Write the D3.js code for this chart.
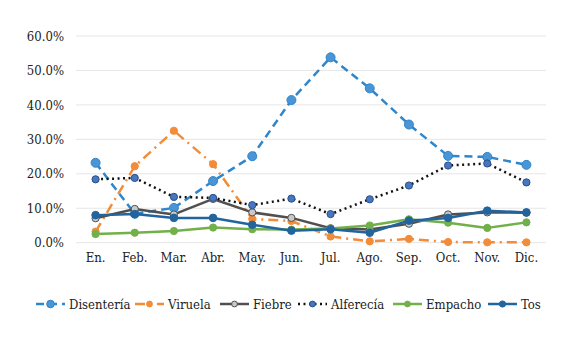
<!DOCTYPE html>
<html><head><meta charset="utf-8">
<script src="https://cdn.jsdelivr.net/npm/d3@7"></script>
<style>body{margin:0;background:#fff}svg{display:block}
svg text{font-family:"DejaVu Serif Condensed","DejaVu Serif",serif;font-stretch:condensed}</style>
</head><body><svg id="c" width="566" height="338"></svg>
<script>
const months = ["En.","Feb.","Mar.","Abr.","May.","Jun.","Jul.","Ago.","Sep.","Oct.","Nov.","Dic."];
const disenteria = [23.2,8.4,10.1,17.9,25.1,41.4,53.8,44.8,34.3,25.2,24.9,22.6];
const viruela = [3.2,22.2,32.5,22.8,6.9,6.3,1.8,0.4,1.1,0.2,0.1,0.1];
const fiebre = [7.1,9.8,8.2,12.7,8.8,7.2,4.2,3.8,5.5,8.2,8.8,8.7];
const alferecia = [18.4,18.8,13.3,13.0,10.9,12.8,8.3,12.6,16.6,22.4,23.0,17.5];
const empacho = [2.5,2.9,3.4,4.4,3.9,3.8,4.1,5.0,6.8,5.8,4.3,5.9];
const tos = [8.0,8.3,7.2,7.2,5.2,3.5,3.9,2.9,6.4,7.2,9.3,8.8];
const yTicks = [0,10,20,30,40,50,60];

const series = [
  {name:"Disentería", values:disenteria, color:"#2E86CC", dash:"8,5", r:4.5, mfill:"#4A95D6", mstroke:"#2E86CC"},
  {name:"Viruela", values:viruela, color:"#F28C38", dash:"10,5,2,5", r:3.6, mfill:"#F28C38", mstroke:"#F28C38"},
  {name:"Fiebre", values:fiebre, color:"#505050", dash:null, r:3.6, mfill:"#C9C9C9", mstroke:"#505050"},
  {name:"Alferecía", values:alferecia, color:"#111111", dash:"2,3.5", r:3.6, mfill:"#4677C0", mstroke:"#2B4F86"},
  {name:"Empacho", values:empacho, color:"#72B04A", dash:null, r:3.6, mfill:"#72B04A", mstroke:"#72B04A"},
  {name:"Tos", values:tos, color:"#22649E", dash:null, r:3.8, mfill:"#22649E", mstroke:"#22649E"}
];

const svg = d3.select("#c");
const x = d3.scaleBand().domain(months).range([76,546]);
const y = d3.scaleLinear().domain([0,60]).range([242.7,36]);

svg.append("g").selectAll("line").data(yTicks).join("line")
  .attr("x1",76).attr("x2",546).attr("y1",d=>y(d)).attr("y2",d=>y(d))
  .attr("stroke","#E6E6E6").attr("stroke-width",1);

const yAxis = d3.axisLeft(y).tickValues(yTicks).tickFormat(d=>d.toFixed(1)+"%").tickSize(0).tickPadding(0);
const ya = svg.append("g").attr("transform","translate(64,0)").call(yAxis);
ya.select(".domain").remove();
ya.attr("font-family",null).attr("font-size",13);
ya.selectAll("text").attr("fill","#222");

const xAxis = d3.axisBottom(x).tickSize(0).tickPadding(0);
const xa = svg.append("g").attr("transform","translate(0,253)").call(xAxis);
xa.select(".domain").remove();
xa.attr("font-family",null).attr("font-size",13);
xa.selectAll("text").attr("fill","#222");

const cx = d=>x(d)+x.bandwidth()/2;
const line = d3.line().x((d,i)=>cx(months[i])).y(d=>y(d));

series.forEach(s=>{
  const g = svg.append("g");
  g.append("path").datum(s.values).attr("d",line).attr("fill","none")
    .attr("stroke",s.color).attr("stroke-width",2.5).attr("stroke-dasharray",s.dash)
    .attr("stroke-linejoin","round");
  g.selectAll("circle").data(s.values).join("circle")
    .attr("cx",(d,i)=>cx(months[i])).attr("cy",d=>y(d)).attr("r",s.r)
    .attr("fill",s.mfill).attr("stroke",s.mstroke).attr("stroke-width",1);
});

const legX = [36,135,220,298,393,488];
const leg = svg.append("g");
series.forEach((s,i)=>{
  const g = leg.append("g").attr("transform",`translate(${legX[i]},304)`);
  g.append("line").attr("x1",0).attr("x2",29).attr("y1",0).attr("y2",0)
    .attr("stroke",s.color).attr("stroke-width",2.5).attr("stroke-dasharray",s.dash);
  g.append("circle").attr("cx",14.5).attr("cy",0).attr("r",s.r-0.7)
    .attr("fill",s.mfill).attr("stroke",s.mstroke).attr("stroke-width",1);
  g.append("text").attr("x",33).attr("y",0).attr("dy","0.35em")
    .attr("fill","#222").attr("font-size",13).text(s.name);
});
</script></body></html>
